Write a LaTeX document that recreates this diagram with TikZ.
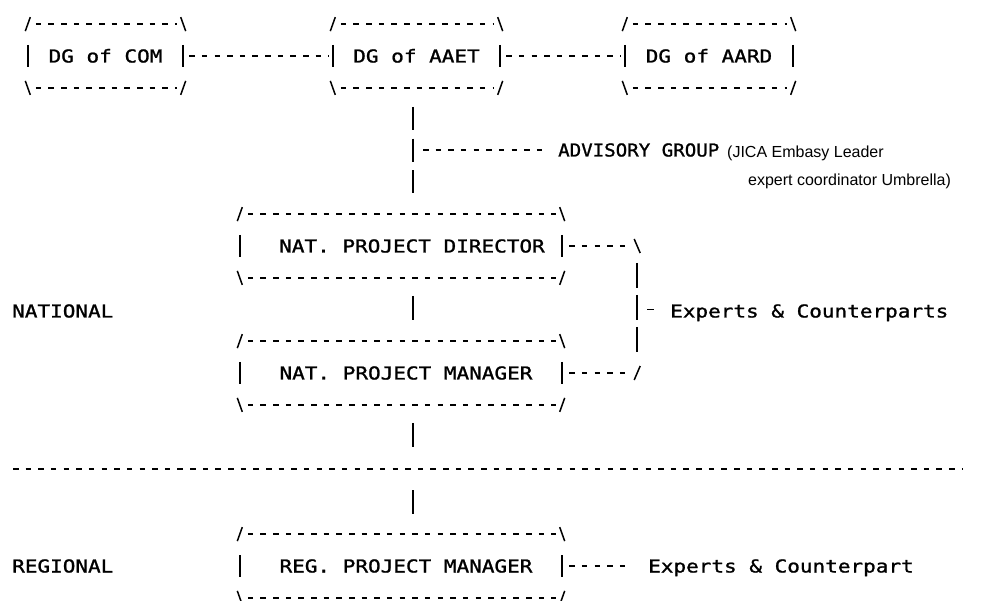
\documentclass[tikz,border=0pt]{standalone}
\usepackage{fontspec}
\usepackage{graphicx}
\newfontfamily\asciifont[FakeStretch=1.18,FakeBold=1.2]{DejaVu Sans Mono}
\newfontfamily\notefont{Liberation Sans}
\usetikzlibrary{calc}
\newcommand\asciiframe[1]{%
  \draw[dashln] ([xshift=8pt]#1.north west) -- ([xshift=-6pt]#1.north east);
  \draw[dashln] ([xshift=8pt]#1.south west) -- ([xshift=-6pt]#1.south east);
  \draw[slashln] ([xshift=-2.5pt,yshift=-7pt]#1.north west) -- ([xshift=2.5pt,yshift=7pt]#1.north west);
  \draw[slashln] ([xshift=-2.5pt,yshift=7pt]#1.north east) -- ([xshift=2.5pt,yshift=-7pt]#1.north east);
  \draw[slashln] ([xshift=-2.5pt,yshift=7pt]#1.south west) -- ([xshift=2.5pt,yshift=-7pt]#1.south west);
  \draw[slashln] ([xshift=-2.5pt,yshift=-7pt]#1.south east) -- ([xshift=2.5pt,yshift=7pt]#1.south east);
  \draw[barln] ([yshift=11pt]#1.west) -- ([yshift=-11pt]#1.west);
  \draw[barln] ([yshift=11pt]#1.east) -- ([yshift=-11pt]#1.east);
}
\begin{document}
\begin{tikzpicture}[x=1pt,y=-1pt,
  asciitext/.style={font=\asciifont\fontsize{17.8}{20}\selectfont, inner sep=0pt, text height=13pt, text depth=0pt},
  frame/.style={asciitext, minimum height=63.4pt},
  lbl/.style={asciitext, anchor=west},
  note/.style={font=\notefont\fontsize{16}{19}\selectfont, inner sep=0pt, anchor=base west},
  dashln/.style={line width=1.6pt, dash pattern=on 5.5pt off 7.15pt},
  slashln/.style={line width=1.5pt},
  barln/.style={line width=1.8pt},
  vbar/.style={line width=1.8pt, dash pattern=on 23pt off 8.7pt},
  dashglyph/.style={line width=1.6pt}
]
\fill[white] (0,0) rectangle (983,601);
\useasboundingbox (0,0) rectangle (983,601);

% boxes
\node[frame, minimum width=155pt] (com) at (105.5,56) {DG of COM};
\node[frame, minimum width=167pt] (aaet) at (416.5,56) {DG of AAET};
\node[frame, minimum width=168pt] (aard) at (709,56) {DG of AARD};
\node[frame, minimum width=322pt] (npd) at (401,246) {\hspace*{22pt}NAT. PROJECT DIRECTOR};
\node[frame, minimum width=322pt] (npm) at (401,373) {\hspace*{10pt}NAT. PROJECT MANAGER};
\node[frame, minimum width=322pt] (reg) at (401,566) {\hspace*{10pt}REG. PROJECT MANAGER};
\asciiframe{com}
\asciiframe{aaet}
\asciiframe{aard}
\asciiframe{npd}
\asciiframe{npm}
\asciiframe{reg}

% labels
\node[lbl] (adv) at (558,150) {\scalebox{0.91}[1]{ADVISORY GROUP}};
\node[note] (jica1) at (727,158) {(JICA Embasy Leader};
\node[note] (jica2) at (748,186) {expert coordinator Umbrella)};
\node[lbl] (nat) at (12,311) {NATIONAL};
\node[lbl] (exp1) at (670,311) {Experts \& Counterparts};
\node[lbl] (regl) at (12,566) {REGIONAL};
\node[lbl] (exp2) at (648,566) {Experts \& Counterpart};

% connectors
\coordinate (vx) at (413,0);
\draw[dashln] ([xshift=6pt]com.east) -- ([xshift=-4pt]aaet.west);
\draw[dashln] ([xshift=6pt]aaet.east) -- ([xshift=-4pt]aard.west);
\draw[vbar] ($(aaet.south -| vx)+(0,19)$) -- ($(npd.north -| vx)+(0,-20)$);
\draw[dashln] ($(vx |- adv.west)+(10,0)$) -- ($(adv.west)+(-14,0)$);
\draw[barln] ($(npd.south -| vx)+(0,18)$) -- ($(npm.north -| vx)+(0,-21)$);
\draw[barln, dash pattern=on 24pt off 43.3pt] ($(npm.south -| vx)+(0,18)$) -- ($(reg.north -| vx)+(0,-20)$);
\coordinate (d1) at (13,469);
\coordinate (d2) at (962,469);
\draw[dashln] (d1) -- (d2);

% bracket to experts
\coordinate (bk1) at ($(npd.east)+(75,0)$);
\coordinate (bk2) at ($(npm.east)+(75,0)$);
\draw[dashln] ($(npd.east)+(7,0)$) -- ($(bk1)+(-6,0)$);
\draw[slashln] ($(bk1)+(-3,-7)$) -- ($(bk1)+(3,7)$);
\draw[barln, dash pattern=on 25pt off 7pt] ($(bk1)+(0,17)$) -- ($(bk2)+(0,-19)$);
\draw[slashln] ($(bk2)+(3,-7)$) -- ($(bk2)+(-3,7)$);
\draw[dashln] ($(npm.east)+(7,0)$) -- ($(bk2)+(-6,0)$);
\draw[dashglyph] ($(bk1)!0.5!(bk2)+(10,0)$) -- ++(7,0);
\draw[dashln] ($(reg.east)+(7,0)$) -- ($(exp2.west)+(-16,0)$);
\end{tikzpicture}
\end{document}
